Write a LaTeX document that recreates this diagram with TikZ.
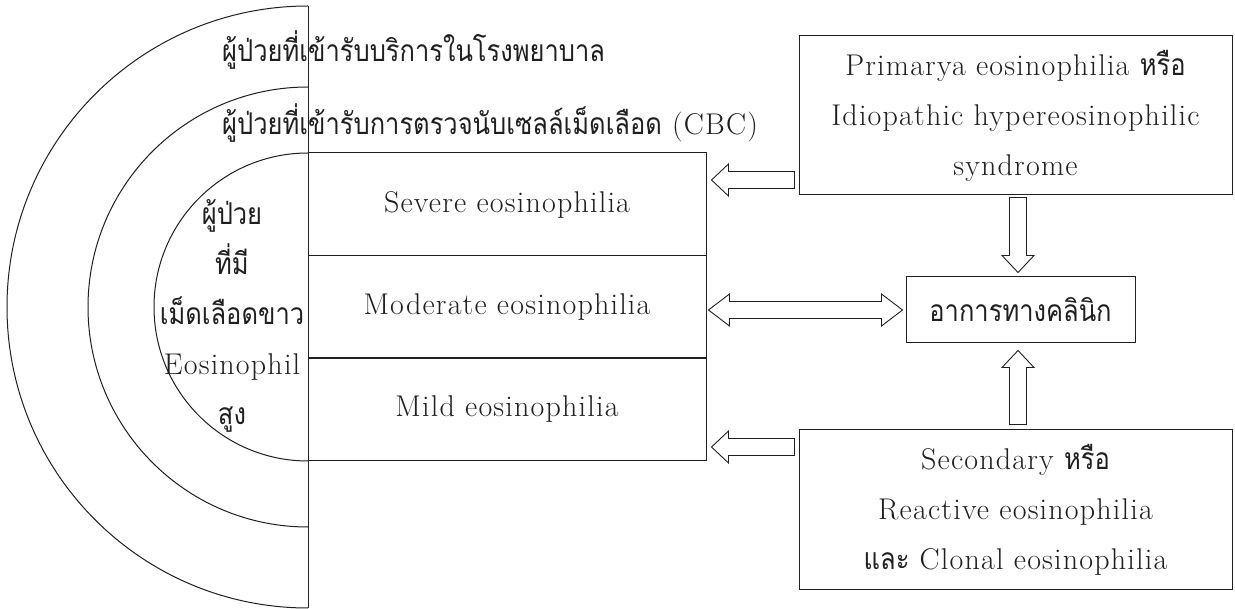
\documentclass[tikz,border=0pt]{standalone}
\usepackage{fontspec}
\setmainfont{Latin Modern Roman}[LetterSpace=4]
\newfontfamily\thaifont[Script=Thai, FakeStretch=0.85]{Loma}
\newcommand\thx[1]{{\thaifont #1}}
\usetikzlibrary{calc}
\definecolor{ink}{gray}{0.12}
\tikzset{
  ln/.style={draw=ink, line width=1pt},
  lvl/.style={ln, rectangle, minimum width=398pt, minimum height=103pt, inner sep=0pt, text=ink},
  side/.style={ln, rectangle, minimum width=433pt, minimum height=159pt, inner sep=0pt, text=ink, align=center},
  txt/.style={text=ink, inner sep=0pt, align=center},
  arr/.style={draw=ink, line width=0.9pt, fill=white, line join=miter},
}
\newcommand\barrow[3]{%
  \coordinate (#1h) at ($(#3)!17pt!(#2)$);
  \draw[arr] ($(#2)!8.5pt!90:(#3)$) -- ($(#1h)!8.5pt!90:(#3)$) -- ($(#1h)!16pt!90:(#3)$) -- (#3)
    -- ($(#1h)!16pt!-90:(#3)$) -- ($(#1h)!8.5pt!-90:(#3)$) -- ($(#2)!8.5pt!-90:(#3)$) -- cycle;}
\newcommand\darrow[3]{%
  \coordinate (#1a) at ($(#2)!21pt!(#3)$);
  \coordinate (#1b) at ($(#3)!21pt!(#2)$);
  \draw[arr] (#2) -- ($(#1a)!16pt!-90:(#3)$) -- ($(#1a)!8.5pt!-90:(#3)$) -- ($(#1b)!8.5pt!90:(#2)$)
    -- ($(#1b)!16pt!90:(#2)$) -- (#3) -- ($(#1b)!16pt!-90:(#2)$) -- ($(#1b)!8.5pt!-90:(#2)$)
    -- ($(#1a)!8.5pt!90:(#3)$) -- ($(#1a)!16pt!90:(#3)$) -- cycle;}
\begin{document}
\begin{tikzpicture}[x=1pt,y=-1pt, font=\fontsize{30}{50}\selectfont]
\useasboundingbox[fill=white] (0,0) rectangle (1235,609);
% concentric half circles
\coordinate (c) at (308,307);
\draw[ln] (308,6) arc[start angle=90, end angle=270, radius=301pt];
\draw[ln] (308,87) arc[start angle=90, end angle=270, radius=220pt];
\draw[ln] (308,153) arc[start angle=90, end angle=270, radius=154pt];
\draw[ln] (308,6) -- (308,608);
% level boxes
\node[lvl] (sev) at (507,204.5) {Severe eosinophilia};
\node[lvl] (mod) at (507,307) {Moderate eosinophilia};
\node[lvl] (mild) at (507,409.5) {Mild eosinophilia};
% ring labels
\node[txt, anchor=west] (t1) at (222,50) {\thx{ผู้ป่วยที่เข้ารับบริการในโรงพยาบาล}};
\node[txt, anchor=west] (t2) at (222,123) {\thx{ผู้ป่วยที่เข้ารับการตรวจนับเซลล์เม็ดเลือด} (CBC)};
\node[txt] (t3) at (232,316) {\thx{ผู้ป่วย}\\\thx{ที่มี}\\\thx{เม็ดเลือดขาว}\\Eosinophil\\\thx{สูง}};
% right boxes
\node[side] (prim) at (1015.5,115.5) {Primarya eosinophilia \thx{หรือ}\\Idiopathic hypereosinophilic\\syndrome};
\node[ln, rectangle, minimum width=229pt, minimum height=66pt, inner sep=0pt, text=ink] (clin) at (1020.5,310) {\thx{อาการทางคลินิก}};
\node[side] (sec) at (1015.5,509.5) {Secondary \thx{หรือ}\\Reactive eosinophilia\\\thx{และ} Clonal eosinophilia};
% arrow endpoints
\coordinate (a1s) at ($(prim.west |- 0,180)+(-4,0)$);
\coordinate (a1e) at ($(sev.east |- 0,180)+(5,0)$);
\coordinate (a2s) at ($(sec.west |- 0,447)+(-4,0)$);
\coordinate (a2e) at ($(mild.east |- 0,447)+(5,0)$);
\coordinate (a3s) at ($(prim.south -| 1018,0)+(0,2)$);
\coordinate (a3e) at ($(clin.north -| 1018,0)+(0,-4)$);
\coordinate (a4s) at ($(sec.north -| 1018,0)+(0,-5)$);
\coordinate (a4e) at ($(clin.south -| 1018,0)+(0,7)$);
\coordinate (a5s) at ($(mod.east |- 0,310)+(2,0)$);
\coordinate (a5e) at ($(clin.west |- 0,310)+(-3,0)$);
\barrow{p1}{a1s}{a1e}
\barrow{p2}{a2s}{a2e}
\barrow{p3}{a3s}{a3e}
\barrow{p4}{a4s}{a4e}
\darrow{p5}{a5s}{a5e}
\end{tikzpicture}
\end{document}
